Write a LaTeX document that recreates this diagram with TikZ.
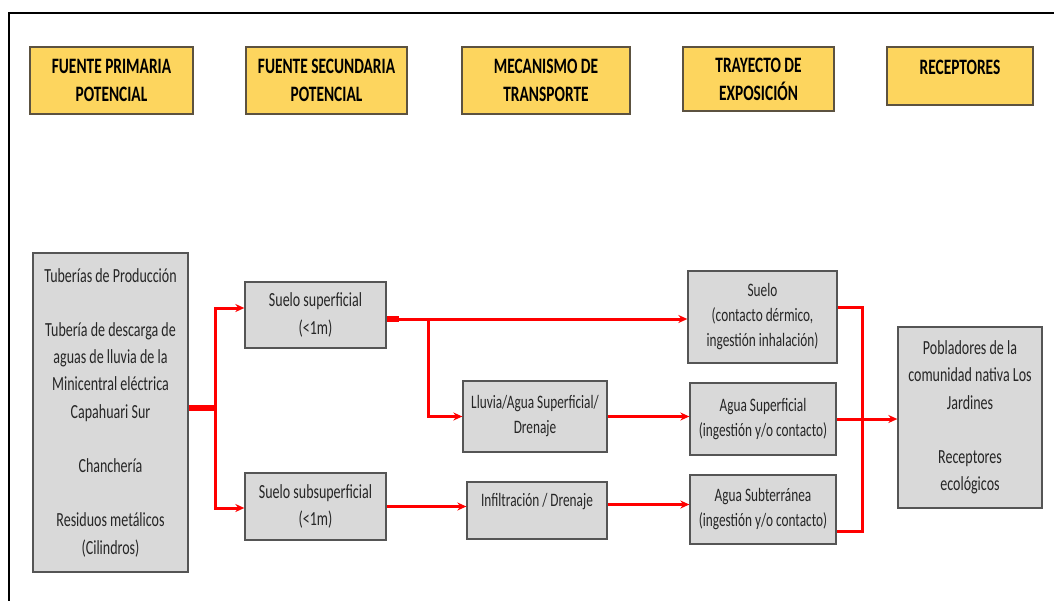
\documentclass[tikz,border=0pt]{standalone}
\usepackage{fontspec}
\setmainfont{Carlito}[FakeStretch=0.7]
\usetikzlibrary{arrows.meta}
\definecolor{headfill}{HTML}{FDD55E}
\definecolor{headline}{HTML}{5C5240}
\definecolor{boxfill}{HTML}{D9D9D9}
\definecolor{boxline}{HTML}{555555}
\definecolor{txt}{HTML}{262626}
\definecolor{flow}{HTML}{FF0000}

\begin{document}
\begin{tikzpicture}[x=1pt,y=-1pt,>={Stealth[length=9pt,width=8pt]},
  head/.style={draw=headline,fill=headfill,line width=1.3pt,inner sep=0pt,
    align=center,text=black,font=\fontsize{22}{28}\selectfont\bfseries},
  box/.style={draw=boxline,fill=boxfill,line width=1.3pt,inner sep=0pt,
    align=center,text=txt,font=\fontsize{20}{27.3}\selectfont},
  smallbox/.style={box,font=\fontsize{19}{25}\selectfont},
  edge/.style={->,draw=flow,line width=3pt},
  link/.style={draw=flow,line width=3pt},
  stub/.style={draw=flow,line width=5.5pt}]
\useasboundingbox (0,0) rectangle (1054,600);
\draw[line width=1.6pt] (9,640) -- (9,13) -- (1080,13);
% column headings
\node[head,minimum width=163pt,minimum height=67pt] (hprim) at (111.5,80.5) {FUENTE PRIMARIA\\POTENCIAL};
\node[head,minimum width=161pt,minimum height=67pt] (hsec) at (326.5,80.5) {FUENTE SECUNDARIA\\POTENCIAL};
\node[head,minimum width=168pt,minimum height=67pt] (hmec) at (546,80.5) {MECANISMO DE\\TRANSPORTE};
\node[head,minimum width=151pt,minimum height=64pt] (htray) at (758.5,79) {TRAYECTO DE\\EXPOSICIÓN};
\node[head,minimum width=146pt,minimum height=58pt,text height=14pt,text depth=18pt] (hrec) at (960,76) {RECEPTORES};
% boxes
\node[box,minimum width=155pt,minimum height=319pt] (src) at (110.5,412.5)
  {Tuberías de Producción\\[27pt]Tubería de descarga de\\aguas de lluvia de la\\Minicentral eléctrica\\Capahuari Sur\\[27pt]Chanchería\\[27pt]Residuos metálicos\\(Cilindros)};
\node[box,minimum width=141pt,minimum height=66pt] (ss) at (315.5,315) {Suelo superficial\\(<1m)};
\node[box,minimum width=141pt,minimum height=67pt] (sub) at (315.5,506.5) {Suelo subsuperficial\\(<1m)};
\node[smallbox,minimum width=144pt,minimum height=71pt] (rain) at (535,416.5) {Lluvia/Agua Superficial/\\Drenaje};
\node[smallbox,minimum width=140pt,minimum height=57pt,text height=13pt,text depth=22pt] (inf) at (537,510.5) {Infiltración / Drenaje};
\node[smallbox,minimum width=149pt,minimum height=92pt] (esoil) at (762.5,317) {Suelo\\(contacto dérmico,\\ingestión inhalación)};
\node[smallbox,minimum width=146pt,minimum height=72pt] (ewat) at (763,419) {Agua Superficial\\(ingestión y/o contacto)};
\node[smallbox,minimum width=146pt,minimum height=69pt] (egw) at (763,509.5) {Agua Subterránea\\(ingestión y/o contacto)};
\node[box,minimum width=144pt,minimum height=181pt] (rec) at (970,417.5)
  {Pobladores de la\\comunidad nativa Los\\Jardines\\[27pt]Receptores\\ecológicos};
% flows
\coordinate (split) at (215,408);
\coordinate (fork) at (428,319);
\coordinate (merge) at (862,420);
\draw[stub] (src.east |- split) -- (split);
\draw[edge] (split) |- ([yshift=7pt]ss.west);
\draw[edge] (split) |- ([yshift=-1.5pt]sub.west);
\draw[stub] ([yshift=-4pt]ss.east) -- ++(12,0);
\draw[edge] ([yshift=-4pt]ss.east) -- ([yshift=-4pt]ss.east -| esoil.west);
\draw[edge] (fork) |- (rain.west);
\draw[edge] (rain.east) -- (rain.east -| ewat.west);
\draw[edge] (sub.east) -- (sub.east -| inf.west);
\draw[edge] ([yshift=6pt]inf.east) -- ([yshift=6pt]inf.east -| egw.west);
\draw[link] ([yshift=10pt]esoil.east) -| ([yshift=-22pt]egw.east -| merge) -- ([yshift=-22pt]egw.east);
\draw[edge] (ewat.east) -- (ewat.east -| rec.west);
\end{tikzpicture}
\end{document}
